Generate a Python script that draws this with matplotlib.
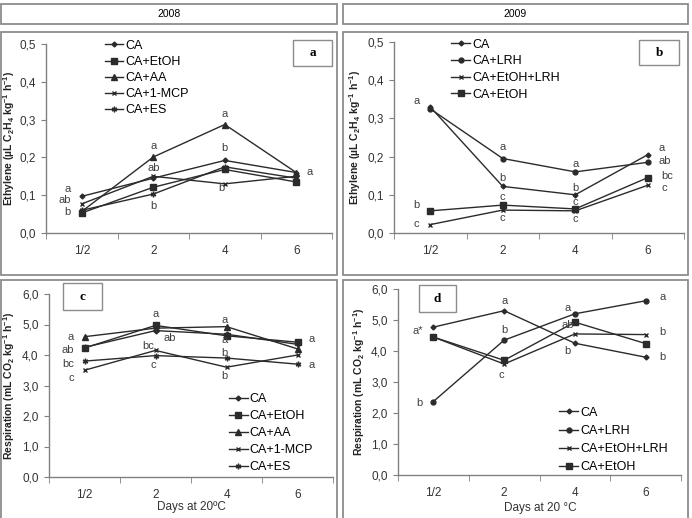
import matplotlib
matplotlib.use("Agg")
import matplotlib.pyplot as plt
from matplotlib.patches import Rectangle

plt.rcParams['font.family'] = ['Liberation Sans', 'DejaVu Sans']
plt.rcParams['mathtext.default'] = 'regular'

days = ['1/2', '2', '4', '6']

# 2008 ethylene (panel a)
eth08_CA = [0.097, 0.145, 0.192, 0.160]
eth08_EtOH = [0.053, 0.121, 0.168, 0.135]
eth08_AA = [0.057, 0.201, 0.287, 0.160]
eth08_MCP = [0.077, 0.150, 0.130, 0.150]
eth08_ES = [0.060, 0.103, 0.175, 0.145]

# 2009 ethylene (panel b)
eth09_CA = [0.330, 0.122, 0.100, 0.205]
eth09_LRH = [0.325, 0.195, 0.160, 0.185]
eth09_EtOH_LRH = [0.022, 0.060, 0.058, 0.125]
eth09_EtOH = [0.058, 0.073, 0.063, 0.145]

# 2008 respiration (panel c)
res08_CA = [4.25, 4.80, 4.68, 4.35]
res08_EtOH = [4.23, 4.97, 4.63, 4.42]
res08_AA = [4.60, 4.88, 4.93, 4.20]
res08_MCP = [3.50, 4.15, 3.60, 4.00]
res08_ES = [3.80, 3.98, 3.90, 3.70]

# 2009 respiration (panel d)
res09_CA = [4.77, 5.30, 4.25, 3.80]
res09_LRH = [2.37, 4.35, 5.20, 5.62]
res09_EtOH_LRH = [4.45, 3.58, 4.55, 4.53]
res09_EtOH = [4.45, 3.70, 4.93, 4.24]

# significance letters: (day index, y, letter, small x nudge)
letters_a = [(0, 0.117, 'a', 0), (0, 0.087, 'ab', 0), (0, 0.056, 'b', 0),
             (1, 0.230, 'a', 0), (1, 0.173, 'ab', 0), (1, 0.072, 'b', 0),
             (2, 0.315, 'a', 0), (2, 0.224, 'b', 0), (2, 0.118, 'b', -0.05),
             (3, 0.161, 'a', 0)]
letters_b = [(0, 0.345, 'a', 0), (0, 0.072, 'b', 0), (0, 0.024, 'c', 0),
             (1, 0.225, 'a', 0), (1, 0.143, 'b', 0), (1, 0.093, 'c', 0), (1, 0.038, 'c', 0),
             (2, 0.180, 'a', 0), (2, 0.117, 'b', 0), (2, 0.080, 'c', 0), (2, 0.036, 'c', 0),
             (3, 0.222, 'a', 0), (3, 0.188, 'ab', 0), (3, 0.150, 'bc', 0.04), (3, 0.119, 'c', 0.04)]
letters_c = [(0, 4.58, 'a', 0), (0, 4.15, 'ab', 0), (0, 3.72, 'bc', 0), (0, 3.25, 'c', 0),
             (1, 5.36, 'a', 0), (1, 4.31, 'bc', -0.1), (1, 4.56, 'ab', 0.2), (1, 3.66, 'c', -0.03),
             (2, 5.16, 'a', -0.03), (2, 4.48, 'a', -0.03), (2, 4.07, 'b', -0.03), (2, 3.32, 'b', -0.03),
             (3, 4.52, 'a', 0), (3, 3.68, 'a', 0)]
letters_d = [(0, 4.65, 'a*', 0), (0, 2.31, 'b', 0),
             (1, 5.62, 'a', 0), (1, 4.68, 'b', 0), (1, 3.23, 'c', -0.04),
             (2, 5.40, 'a', -0.1), (2, 4.84, 'ab', -0.1), (2, 4.00, 'b', -0.1),
             (3, 5.75, 'a', 0.05), (3, 4.61, 'b', 0.05), (3, 3.82, 'b', 0.05)]

W, H = 692, 518
fig = plt.figure(figsize=(W / 100, H / 100), dpi=100)

def fbox(x0, y0, x1, y1):
    return [x0 / W, 1 - y1 / H, (x1 - x0) / W, (y1 - y0) / H]

def cell(x0, y0, x1, y1):
    r = Rectangle((x0 / W, 1 - y1 / H), (x1 - x0) / W, (y1 - y0) / H,
                  transform=fig.transFigure, fill=False, ec='#8c8c8c', lw=1.3)
    fig.patches.append(r)

# table-like frame
cell(1, 4, 337, 24)
cell(343, 4, 688, 24)
cell(1, 32, 337, 275)
cell(343, 32, 688, 275)
cell(1, 280, 337, 530)
cell(343, 280, 688, 530)
fig.text(169 / W, 1 - 14 / H, '2008', ha='center', va='center', fontsize=7.5)
fig.text(515 / W, 1 - 14 / H, '2009', ha='center', va='center', fontsize=7.5)

lc = '#2b2b2b'
ast = (6, 2, 0)

def setup(ax, ymax, ystep):
    ax.set_xlim(-0.5, 3.5)
    ax.set_ylim(0, ymax)
    for s in ['top', 'right']:
        ax.spines[s].set_visible(False)
    for s in ['left', 'bottom']:
        ax.spines[s].set_color('#808080')
        ax.spines[s].set_linewidth(1)
    ax.set_xticks(range(4))
    ax.set_xticklabels(days)
    ax.set_xticks([-0.5, 0.5, 1.5, 2.5, 3.5], minor=True)
    ax.tick_params(axis='x', which='major', length=0, pad=9, labelsize=8.5, colors='#333333')
    ax.tick_params(axis='x', which='minor', length=4, direction='out', color='#808080')
    yt = [i * ystep for i in range(int(round(ymax / ystep)) + 1)]
    ax.set_yticks(yt)
    ax.set_yticklabels([('%.1f' % v).replace('.', ',') for v in yt])
    ax.tick_params(axis='y', length=3.5, direction='out', pad=4, labelsize=8.5,
                   color='#808080', labelcolor='#333333')

def put_letters(ax, items):
    for i, y, t, dx in items:
        if i == 0:
            x, ha = -0.15, 'right'
        elif i == 3:
            x, ha = 3.15, 'left'
        else:
            x, ha = i, 'center'
        ax.text(x + dx, y, t, ha=ha, va='center', fontsize=8, color='#404040')

def label_box(x0, y0, x1, y1, t):
    r = Rectangle((x0 / W, 1 - y1 / H), (x1 - x0) / W, (y1 - y0) / H,
                  transform=fig.transFigure, fill=False, ec='#8c8c8c', lw=1)
    fig.patches.append(r)
    fig.text((x0 + x1) / 2 / W, 1 - (y0 + y1) / 2 / H, t, ha='center', va='center',
             fontsize=9.5, fontweight='bold', family='Liberation Serif')

def ylab(ax, text, x0, px_right=16):
    ax.set_ylabel(text, fontsize=7.5, fontweight='bold', color='#222222')
    w = ax.get_position().width * W
    ax.yaxis.set_label_coords((px_right - x0) / w, 0.5)

x = range(4)
eth_lab = 'Ethylene (µL C$_2$H$_4$ kg$^{-1}$ h$^{-1}$)'
res_lab = 'Respiration (mL CO$_2$ kg$^{-1}$ h$^{-1}$)'
leg_kw = dict(frameon=False, fontsize=9, borderpad=0, handlelength=1.5,
              handletextpad=0.15)

# panel a
ax = fig.add_axes(fbox(46, 44, 332, 233))
ax.plot(x, eth08_CA, color=lc, lw=1, marker='D', ms=2.5, label='CA')
ax.plot(x, eth08_EtOH, color=lc, lw=1, marker='s', ms=4, label='CA+EtOH')
ax.plot(x, eth08_AA, color=lc, lw=1, marker='^', ms=4, label='CA+AA')
ax.plot(x, eth08_MCP, color=lc, lw=1, marker='x', ms=3.5, label='CA+1-MCP')
ax.plot(x, eth08_ES, color=lc, lw=1, marker=ast, ms=4, label='CA+ES')
setup(ax, 0.5, 0.1)
ylab(ax, eth_lab, 46, 17)
put_letters(ax, letters_a)
ax.legend(loc='upper left', bbox_to_anchor=(0.183, 1.055), labelspacing=0.33, **leg_kw)
label_box(293, 40, 332, 66, 'a')

# panel b
ax = fig.add_axes(fbox(394, 42, 684, 233))
ax.plot(x, eth09_CA, color=lc, lw=1, marker='D', ms=2.5, label='CA')
ax.plot(x, eth09_LRH, color=lc, lw=1, marker='o', ms=3.5, label='CA+LRH')
ax.plot(x, eth09_EtOH_LRH, color=lc, lw=1, marker='x', ms=3.5, label='CA+EtOH+LRH')
ax.plot(x, eth09_EtOH, color=lc, lw=1, marker='s', ms=4, label='CA+EtOH')
setup(ax, 0.5, 0.1)
ylab(ax, eth_lab, 394, 363)
put_letters(ax, letters_b)
ax.legend(loc='upper left', bbox_to_anchor=(0.176, 1.05), labelspacing=0.37, **leg_kw)
label_box(639, 40, 679, 65, 'b')

# panel c
ax = fig.add_axes(fbox(49, 294, 333, 477))
ax.plot(x, res08_CA, color=lc, lw=1, marker='D', ms=2.5, label='CA')
ax.plot(x, res08_EtOH, color=lc, lw=1, marker='s', ms=4, label='CA+EtOH')
ax.plot(x, res08_AA, color=lc, lw=1, marker='^', ms=4, label='CA+AA')
ax.plot(x, res08_MCP, color=lc, lw=1, marker='x', ms=3.5, label='CA+1-MCP')
ax.plot(x, res08_ES, color=lc, lw=1, marker=ast, ms=4, label='CA+ES')
setup(ax, 6.0, 1.0)
ylab(ax, res_lab, 49, 17)
put_letters(ax, letters_c)
ax.legend(loc='lower left', bbox_to_anchor=(0.611, -0.015), labelspacing=0.4, **leg_kw)
label_box(63, 283, 102, 310, 'c')
fig.text(191 / W, 1 - 507 / H, 'Days at 20ºC', ha='center', va='center',
         fontsize=8.5, color='#333333')

# panel d
ax = fig.add_axes(fbox(398, 289, 681, 475))
ax.plot(x, res09_CA, color=lc, lw=1, marker='D', ms=2.5, label='CA')
ax.plot(x, res09_LRH, color=lc, lw=1, marker='o', ms=3.5, label='CA+LRH')
ax.plot(x, res09_EtOH_LRH, color=lc, lw=1, marker='x', ms=3.5, label='CA+EtOH+LRH')
ax.plot(x, res09_EtOH, color=lc, lw=1, marker='s', ms=4, label='CA+EtOH')
setup(ax, 6.0, 1.0)
ylab(ax, res_lab, 398, 367)
put_letters(ax, letters_d)
ax.legend(loc='lower left', bbox_to_anchor=(0.548, -0.025), labelspacing=0.5, **leg_kw)
label_box(419, 285, 456, 312, 'd')
fig.text(540 / W, 1 - 508 / H, 'Days at 20 °C', ha='center', va='center',
         fontsize=8.5, color='#333333')

fig.savefig('out.png', dpi=100)
